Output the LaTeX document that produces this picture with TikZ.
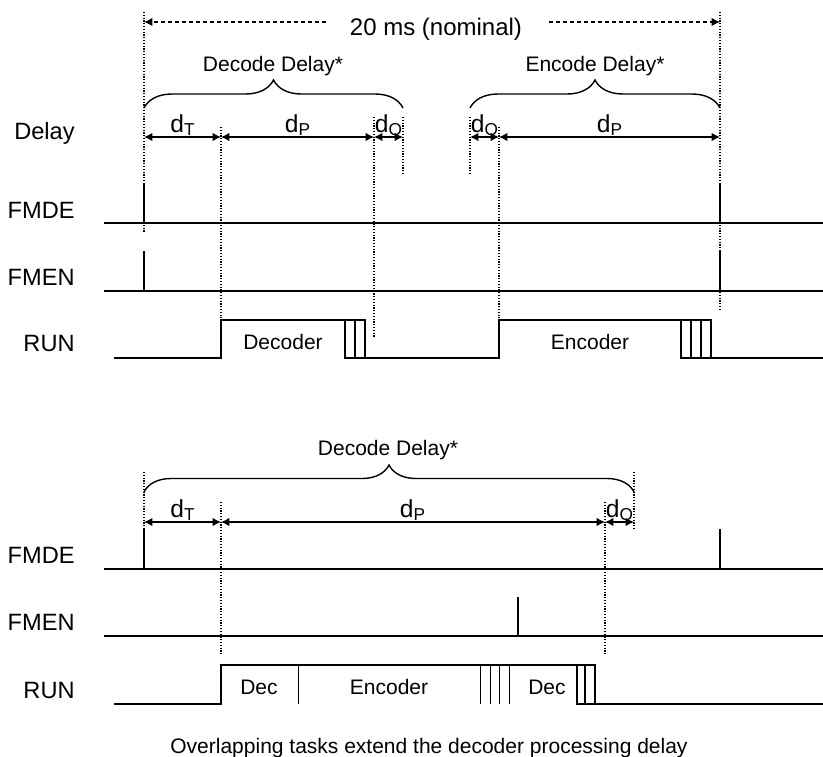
\documentclass[tikz,border=0pt]{standalone}
\usepackage{fontspec}
\setmainfont{Liberation Sans}
\usetikzlibrary{arrows.meta,decorations.pathreplacing}
\begin{document}
\begin{tikzpicture}[x=0.5pt,y=-0.5pt,
  font=\fontsize{10.5}{12.6}\selectfont,
  sig/.style={line width=1.05pt, line cap=rect},
  thinsig/.style={line width=0.45pt},
  guide/.style={line width=0.55pt, dash pattern=on 0.55pt off 0.85pt},
  dimarrow/.style={{Latex[length=4.2pt,width=4.2pt]}-{Latex[length=4.2pt,width=4.2pt]}, line width=0.55pt},
  nomarrow/.style={-{Latex[length=4.2pt,width=4.2pt]}, line width=0.55pt, dash pattern=on 2pt off 1.5pt},
  brc/.style={decorate, decoration={brace,amplitude=14pt,raise=0pt}, line width=0.7pt},
  siglbl/.style={anchor=east, inner sep=0pt, font=\fontsize{11.8}{14}\selectfont},
  dlbl/.style={anchor=base, inner sep=0pt, font=\fontsize{12.3}{14}\selectfont},
  txt/.style={inner sep=0pt}]
\useasboundingbox (0,0) rectangle (823,756);

% ---------- TOP SECTION ----------
% guides
\draw[guide] (144,12) -- (144,233);
\draw[guide] (720,12) -- (720,310);
\draw[guide] (221,127) -- (221,318);
\draw[guide] (374,117) -- (374,338);
\draw[guide] (403,117) -- (403,175);
\draw[guide] (470,117) -- (470,175);
\draw[guide] (499,127) -- (499,318);

% nominal period
\node[txt, anchor=base, font=\fontsize{12}{14}\selectfont] (nom) at (436,35) {20 ms (nominal)};
\coordinate (nomL0) at (326,22); \coordinate (nomL1) at (144,22);
\coordinate (nomR0) at (549,22); \coordinate (nomR1) at (720,22);
\draw[nomarrow] (nomL0) -- (nomL1);
\draw[nomarrow] (nomR0) -- (nomR1);

% braces
\node[txt, anchor=base] (decd) at (273,71) {Decode Delay*};
\node[txt, anchor=base] (encd) at (595,71) {Encode Delay*};
\draw[brc] (144,108) -- (403,108);
\draw[brc] (470,108) -- (720,108);

% dimension arrows
\coordinate (t0) at (144,137); \coordinate (t1) at (221,137);
\coordinate (t2) at (374,137); \coordinate (t3) at (403,137);
\coordinate (t4) at (470,137); \coordinate (t5) at (499,137);
\coordinate (t6) at (720,137);
\draw[dimarrow] (t0) -- (t1);
\draw[dimarrow] (t1) -- (t2);
\draw[dimarrow] (t2) -- (t3);
\draw[dimarrow] (t4) -- (t5);
\draw[dimarrow] (t5) -- (t6);
\node[dlbl] (dT1) at (183,132) {d\textsubscript{T}};
\node[dlbl] (dP1) at (298,132) {d\textsubscript{P}};
\node[dlbl] (dQ1) at (389,132) {d\textsubscript{Q}};
\node[dlbl] (dQ2) at (485,132) {d\textsubscript{Q}};
\node[dlbl] (dP2) at (610,132) {d\textsubscript{P}};

% signal labels
\node[siglbl] (lDelay) at (75,133) {Delay};
\node[siglbl] (lFMDE1) at (75,210) {FMDE};
\node[siglbl] (lFMEN1) at (75,277) {FMEN};
\node[siglbl] (lRUN1) at (75,343) {RUN};

% FMDE
\draw[sig] (105,223) -- (823,223);
\draw[sig] (144,185) -- (144,223);
\draw[sig] (720,185) -- (720,223);
% FMEN
\draw[sig] (105,291) -- (823,291);
\draw[sig] (144,252) -- (144,291);
\draw[sig] (720,252) -- (720,291);
% RUN
\draw[sig] (115,358) -- (221,358) -- (221,320) -- (365,320) -- (365,358)
  -- (499,358) -- (499,320) -- (711,320) -- (711,358) -- (823,358);
\draw[sig] (345,320) -- (345,358) -- (365,358);
\draw[sig] (355,320) -- (355,358);
\draw[sig] (681,320) -- (681,358) -- (711,358);
\draw[sig] (691,320) -- (691,358);
\draw[sig] (701,320) -- (701,358);
\node[txt] (decoder1) at (283,342) {Decoder};
\node[txt] (encoder1) at (590,342) {Encoder};

% ---------- BOTTOM SECTION ----------
\draw[guide] (144,472) -- (144,530);
\draw[guide] (634,472) -- (634,530);
\draw[guide] (221,502) -- (221,655);
\draw[guide] (605,502) -- (605,655);

\node[txt, anchor=base] (decd2) at (388,455) {Decode Delay*};
\draw[brc, decoration={brace,amplitude=13.5pt}] (144,492) -- (634,492);

\coordinate (u0) at (144,522); \coordinate (u1) at (221,522);
\coordinate (u2) at (605,522); \coordinate (u3) at (634,522);
\draw[dimarrow] (u0) -- (u1);
\draw[dimarrow] (u1) -- (u2);
\draw[dimarrow] (u2) -- (u3);
\node[dlbl] (dT3) at (183,517) {d\textsubscript{T}};
\node[dlbl] (dP3) at (413,517) {d\textsubscript{P}};
\node[dlbl] (dQ3) at (620,517) {d\textsubscript{Q}};

\node[siglbl] (lFMDE2) at (75,555) {FMDE};
\node[siglbl] (lFMEN2) at (75,622) {FMEN};
\node[siglbl] (lRUN2) at (75,690) {RUN};

\draw[sig] (105,569) -- (823,569);
\draw[sig] (144,530) -- (144,569);
\draw[sig] (720,530) -- (720,569);
\draw[sig] (105,636) -- (823,636);
\draw[sig] (518,598) -- (518,636);
\draw[sig] (115,704) -- (221,704) -- (221,665) -- (595,665) -- (595,704) -- (823,704);
\draw[sig] (577,665) -- (577,704) -- (595,704);
\draw[sig] (585,665) -- (585,704);
\draw[thinsig] (298,665) -- (298,704);
\draw[thinsig] (480,665) -- (480,704);
\draw[thinsig] (490,665) -- (490,704);
\draw[thinsig] (499,665) -- (499,704);
\draw[thinsig] (509,665) -- (509,704);
\node[txt] (dec2a) at (259,687) {Dec};
\node[txt] (enc2) at (389,687) {Encoder};
\node[txt] (dec2b) at (547,687) {Dec};

\node[txt, anchor=base west] (caption) at (170,753) {Overlapping tasks extend the decoder processing delay};
\end{tikzpicture}
\end{document}
